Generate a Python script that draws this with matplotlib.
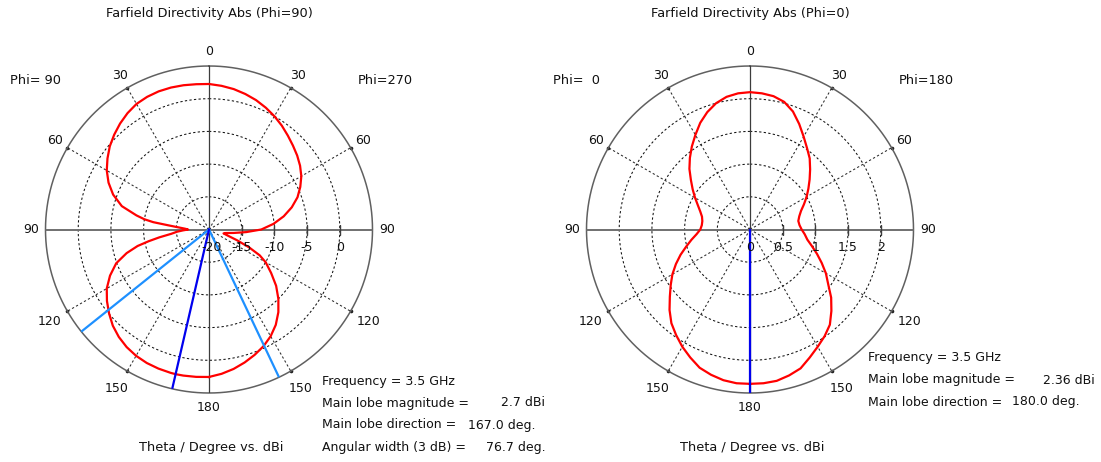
import numpy as np
import matplotlib
matplotlib.use("Agg")
import matplotlib.pyplot as plt

# ---------------- data ----------------
# Cut Phi=90 / Phi=270 (dBi), theta in degrees from 0 (top) to 180 (bottom)
theta_phi90 = [0, 5, 10, 15, 20, 25, 30, 35, 40, 45, 50, 55, 60, 65, 70, 75, 79,
               81, 82.5, 84, 86, 88, 90, 92, 94, 96.5, 99, 101, 103, 106, 110,
               115, 120, 125, 130, 135, 140, 145, 150, 155, 160, 165, 167, 170,
               175, 180]
dbi_phi90 = [2.25, 2.30, 2.40, 2.47, 2.48, 2.38, 2.17, 1.72, 1.15, 0.50, -0.20,
             -1.05, -1.95, -3.05, -4.40, -6.20, -8.70, -10.0, -11.4, -13.6,
             -15.3, -16.3, -16.8, -16.0, -15.1, -14.2, -12.3, -10.6, -8.8, -6.9,
             -4.9, -3.3, -1.95, -0.95, -0.05, 0.80, 1.45, 1.95, 2.30, 2.52, 2.63,
             2.69, 2.70, 2.68, 2.62, 2.55]
theta_phi270 = [0, 5, 10, 15, 20, 25, 30, 35, 40, 45, 50, 55, 60, 65, 70, 75, 80,
                85, 90, 94, 98, 102, 105, 108, 111, 114, 117, 120, 125, 130, 135,
                140, 145, 150, 155, 160, 165, 170, 175, 180]
dbi_phi270 = [2.25, 2.05, 1.80, 1.45, 1.05, 0.55, 0.0, -0.60, -1.25, -1.85,
              -2.40, -3.00, -3.70, -4.60, -5.60, -6.90, -8.40, -10.1, -12.0,
              -14.3, -16.2, -17.4, -17.7, -17.0, -15.4, -13.3, -11.3, -10.0,
              -8.4, -6.6, -5.0, -3.5, -2.2, -1.15, -0.30, 0.40, 1.05, 1.65, 2.15,
              2.55]

# Cut Phi=0 / Phi=180 (dBi, linear radial scale)
theta_phi0 = [0, 5, 10, 15, 20, 25, 30, 35, 40, 45, 50, 55, 60, 65, 70, 75, 80,
              85, 90, 95, 100, 105, 110, 115, 120, 125, 130, 135, 140, 145, 150,
              155, 160, 165, 170, 175, 180]
dbi_phi0 = [2.10, 2.09, 2.06, 2.00, 1.91, 1.80, 1.67, 1.55, 1.43, 1.31, 1.18,
            1.07, 0.97, 0.88, 0.81, 0.76, 0.74, 0.74, 0.76, 0.82, 0.91, 1.01,
            1.13, 1.25, 1.37, 1.48, 1.60, 1.74, 1.87, 1.97, 2.07, 2.16, 2.25,
            2.30, 2.34, 2.36, 2.36]
theta_phi180 = [0, 5, 10, 15, 20, 25, 30, 35, 40, 45, 50, 55, 60, 65, 70, 75, 80,
                85, 90, 95, 100, 105, 110, 115, 120, 125, 130, 135, 140, 145, 150,
                155, 160, 165, 170, 175, 180]
dbi_phi180 = [2.10, 2.09, 2.07, 2.02, 1.92, 1.78, 1.64, 1.52, 1.42, 1.30, 1.19,
              1.09, 1.00, 0.91, 0.83, 0.78, 0.75, 0.76, 0.79, 0.84, 0.89, 0.98,
              1.09, 1.21, 1.34, 1.46, 1.62, 1.76, 1.90, 1.99, 2.07, 2.16, 2.26,
              2.31, 2.35, 2.36, 2.36]

# Main lobe results
freq_ghz = 3.5
left_main_mag, left_main_dir, left_width = 2.7, 167.0, 76.7
right_main_mag, right_main_dir = 2.36, 180.0

left_rticks = [-20, -15, -10, -5, 0]
right_rticks = [0, 0.5, 1, 1.5, 2]
angle_ticks = [0, 30, 60, 90, 120, 150, 180]

# ---------------- figure ----------------
W, H = 1101, 462
fig = plt.figure(figsize=(W / 100, H / 100), dpi=100)
fig.patch.set_facecolor("white")
plt.rcParams["font.family"] = ["DejaVu Sans"]
TXT = "#111111"
FS_TEXT = 9.3
FS_INFO = 9
FS_NUM = 9
R_PX = 163.5


def fx(x):
    return x / W


def fy(y):
    return 1 - y / H


def make_polar(cx, cy, rmin, rmax, rticks, first_dx=0):
    ax = fig.add_axes([fx(cx - R_PX), fy(cy + R_PX), 2 * R_PX / W, 2 * R_PX / H],
                      projection="polar")
    ax.set_theta_zero_location("N")
    ax.set_theta_direction(-1)
    ax.set_ylim(rmin, rmax)
    ax.set_xticks([])
    ax.set_yticks([])
    ax.grid(False)
    for s in ax.spines.values():
        s.set_visible(False)
    ax.patch.set_alpha(0)

    tt = np.linspace(0, 2 * np.pi, 721)
    dash = (0, (2.2, 2.2))
    # concentric rings
    for r in rticks[1:]:
        ax.plot(tt, np.full_like(tt, r), color="#111111", lw=0.75, ls=dash, zorder=1)
    # radial spokes every 30 deg
    spokes = [30, 60, 120, 150, 210, 240, 300, 330]
    for a in spokes:
        ax.plot([np.radians(a)] * 2, [rmin, rmax], color="#2a2a2a", lw=0.75,
                ls=dash, zorder=1)
    ax.plot(np.radians(spokes), [rmax] * len(spokes), "o", ms=1.6, color="#222222",
            zorder=2, clip_on=False)
    # outer circle
    ax.plot(tt, np.full_like(tt, rmax), color="#606060", lw=1.1, zorder=2,
            clip_on=False)
    # main axes lines
    ax.plot([0, 0], [rmin, rmax], color="#3c3c3c", lw=0.9, zorder=2)
    ax.plot([np.pi, np.pi], [rmin, rmax], color="#3c3c3c", lw=0.9, zorder=2)
    ax.plot([np.pi / 2] * 2, [rmin, rmax], color="#707070", lw=1.4, zorder=2)
    ax.plot([3 * np.pi / 2] * 2, [rmin, rmax], color="#707070", lw=1.4, zorder=2)
    ax.plot([np.pi / 2] * (len(rticks) - 1), rticks[1:], ls="none", marker="|",
            ms=7, mew=1.0, color="#3c3c3c", zorder=2)
    # radial tick labels along the horizontal axis
    for i, r in enumerate(rticks):
        lab = f"{r:g}"
        dx = first_dx if i == 0 else 0
        ax.annotate(lab, (np.pi / 2, r), xytext=(dx, -13), textcoords="offset points",
                    ha="center", va="center", fontsize=FS_NUM, color=TXT,
                    annotation_clip=False, zorder=5)
    # angular labels on both halves
    span = rmax - rmin
    for a in angle_ticks:
        lab = str(a)
        rp = 184 if len(lab) == 3 and a != 180 else 178
        rr = rmax + span * (rp - R_PX) / R_PX
        for sgn in ([1] if a in (0, 180) else [1, -1]):
            ax.text(np.radians(sgn * a), rr, lab, ha="center", va="center",
                    fontsize=FS_NUM, color=TXT, clip_on=False)
    return ax


def curve(th_left, v_left, th_right, v_right):
    th = np.concatenate([-np.asarray(th_left[::-1], float),
                         np.asarray(th_right[1:], float)])
    v = np.concatenate([np.asarray(v_left[::-1], float),
                        np.asarray(v_right[1:], float)])
    return np.radians(th), v


# ---- left plot: Phi=90 / Phi=270 ----
axL = make_polar(209, 229.5, -20, 5, left_rticks, first_dx=2)
th, v = curve(theta_phi90, dbi_phi90, theta_phi270, dbi_phi270)
axL.plot(th, v, color="#ff0000", lw=1.6, zorder=3, solid_joinstyle="round")
main_L = -left_main_dir  # lies on the Phi=90 half
for edge in (main_L - left_width / 2, main_L + left_width / 2):
    axL.plot([np.radians(edge)] * 2, [-20, 5], color="#1e90ff", lw=1.6, zorder=4)
axL.plot([np.radians(main_L)] * 2, [-20, 5], color="#0000ee", lw=1.6, zorder=4)

# ---- right plot: Phi=0 / Phi=180 ----
axR = make_polar(750, 229.5, 0, 2.5, right_rticks)
th, v = curve(theta_phi0, dbi_phi0, theta_phi180, dbi_phi180)
axR.plot(th, v, color="#ff0000", lw=1.6, zorder=3, solid_joinstyle="round")
axR.plot([np.radians(right_main_dir)] * 2, [0, 2.5], color="#0000ee", lw=1.6,
         zorder=4)

# ---------------- text ----------------
def t(x, y, s, ha="left", fs=FS_TEXT):
    fig.text(fx(x), fy(y), s, ha=ha, va="center", fontsize=fs, color=TXT)


t(209, 13, "Farfield Directivity Abs (Phi=90)", ha="center")
t(750, 13, "Farfield Directivity Abs (Phi=0)", ha="center")
t(10, 81, "Phi= 90")
t(358, 81, "Phi=270")
t(553, 81, "Phi=  0")
t(899, 81, "Phi=180")
t(211, 448, "Theta / Degree vs. dBi", ha="center")
t(752, 448, "Theta / Degree vs. dBi", ha="center")

# info block, left
t(322, 381, f"Frequency = {freq_ghz:g} GHz", fs=FS_INFO)
t(322, 403, "Main lobe magnitude =", fs=FS_INFO)
t(545, 403, f"{left_main_mag:g} dBi", ha="right", fs=FS_INFO)
t(322, 425, "Main lobe direction =", fs=FS_INFO)
t(536, 425, f"{left_main_dir:.1f} deg.", ha="right", fs=FS_INFO)
t(322, 448, "Angular width (3 dB) =", fs=FS_INFO)
t(546, 448, f"{left_width:.1f} deg.", ha="right", fs=FS_INFO)

# info block, right
t(868, 357, f"Frequency = {freq_ghz:g} GHz", fs=FS_INFO)
t(868, 380, "Main lobe magnitude =", fs=FS_INFO)
t(1095, 380, f"{right_main_mag:g} dBi", ha="right", fs=FS_INFO)
t(868, 402, "Main lobe direction =", fs=FS_INFO)
t(1080, 402, f"{right_main_dir:.1f} deg.", ha="right", fs=FS_INFO)

fig.savefig("out.png", dpi=100, facecolor="white")
